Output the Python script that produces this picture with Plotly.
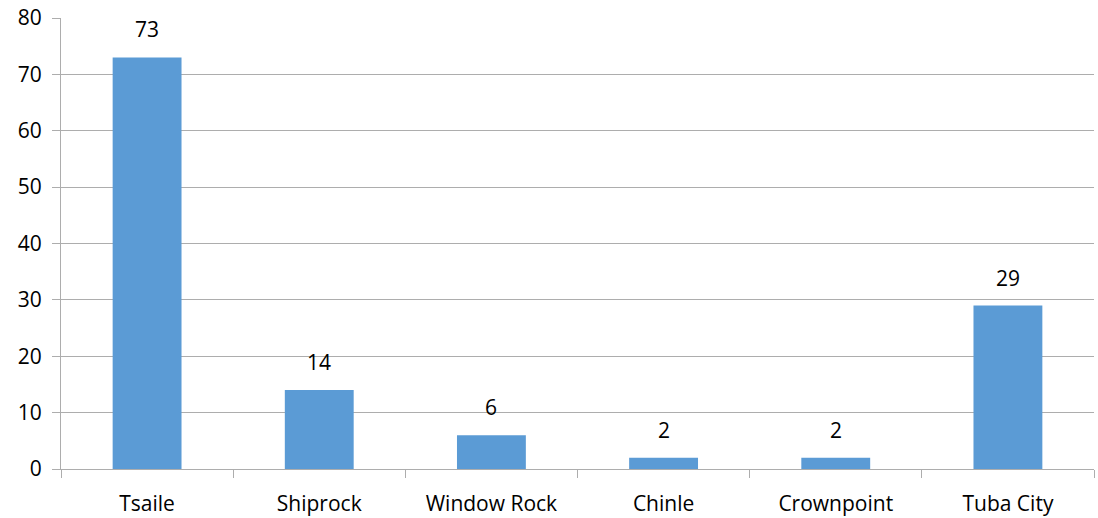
import plotly.graph_objects as go

categories = ["Tsaile", "Shiprock", "Window Rock", "Chinle", "Crownpoint", "Tuba City"]
values = [73, 14, 6, 2, 2, 29]
y_ticks = [0, 10, 20, 30, 40, 50, 60, 70, 80]

FONT = "Open Sans, sans-serif"
GRID = "#ADADAD"

fig = go.Figure()
fig.add_trace(go.Bar(
    x=categories, y=values,
    marker=dict(color="#5B9BD5", line=dict(width=0)),
    width=0.4,
    hoverinfo="x+y",
))

for c, v in zip(categories, values):
    fig.add_annotation(x=c, y=v, text=str(v), showarrow=False,
                       yanchor="bottom", yshift=12,
                       font=dict(family=FONT, size=21, color="#000000"))

fig.update_layout(
    width=1098, height=518,
    margin=dict(l=61, r=4, t=18, b=49),
    paper_bgcolor="white", plot_bgcolor="white",
    showlegend=False,
    font=dict(family=FONT, size=21, color="#000000"),
    xaxis=dict(
        showline=True, linecolor=GRID, linewidth=1,
        ticks="outside", tickson="boundaries", ticklen=8, tickcolor=GRID,
        showgrid=False, tickfont=dict(size=21), ticklabelstandoff=16,
        automargin=False,
    ),
    yaxis=dict(
        range=[0, 80], tickvals=y_ticks,
        showline=True, linecolor=GRID, linewidth=1,
        ticks="outside", ticklen=8, tickcolor=GRID,
        showgrid=True, gridcolor=GRID, gridwidth=1,
        zeroline=False, tickfont=dict(size=21), ticklabelstandoff=6,
        automargin=False,
    ),
    bargap=0.6,
)

fig.write_html("out.html", config={"displayModeBar": False},
               post_script="document.body.style.margin='0';")
